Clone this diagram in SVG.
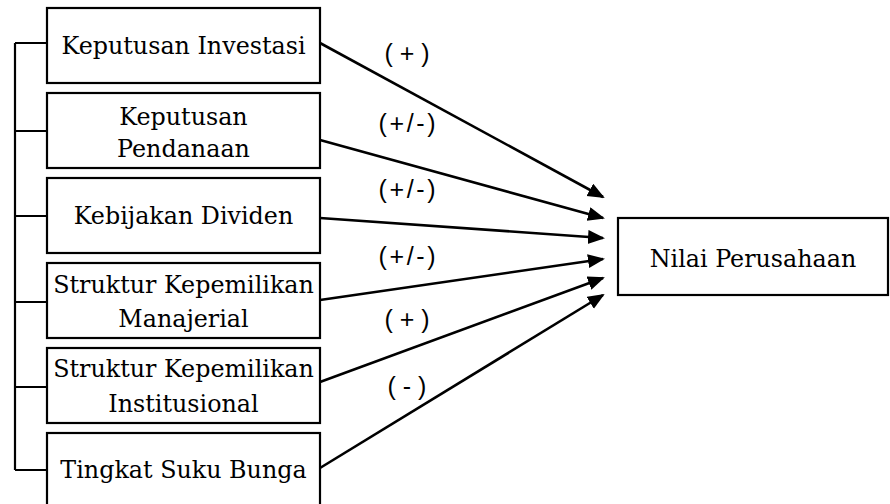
<svg xmlns="http://www.w3.org/2000/svg" width="890" height="504" viewBox="0 0 890 504">
<style>
.box{fill:#fff;stroke:#000;stroke-width:2.2}
.t{font-family:"DejaVu Serif","Liberation Serif",serif;font-size:23.8px;fill:#000;text-anchor:middle}
.lbl{font-family:"Liberation Sans",Arial,sans-serif;font-size:25px;fill:#000;text-anchor:middle}
.ln{stroke:#000;stroke-width:2.2;fill:none}
.arr{stroke:#000;stroke-width:2.6;fill:none;marker-end:url(#ah)}
</style>
<defs>
<marker id="ah" markerUnits="userSpaceOnUse" markerWidth="18" markerHeight="16" refX="15" refY="7" orient="auto">
<path d="M0,0 L17,7 L0,14 z" fill="#000"/>
</marker>
</defs>
<rect width="890" height="504" fill="#fff"/>
<g id="bracket">
<path class="ln" d="M15,43 V470 M15,43 H47 M15,131 H47 M15,216 H47 M15,302 H47 M15,387 H47 M15,470 H47"/>
</g>
<g id="n1"><rect class="box" x="47" y="8" width="273" height="75"/><text class="t" x="183.5" y="54">Keputusan Investasi</text></g>
<g id="n2"><rect class="box" x="47" y="93" width="273" height="75"/><text class="t" x="183.5" y="125">Keputusan</text><text class="t" x="183.5" y="157">Pendanaan</text></g>
<g id="n3"><rect class="box" x="47" y="178" width="273" height="75"/><text class="t" x="183.5" y="224">Kebijakan Dividen</text></g>
<g id="n4"><rect class="box" x="47" y="263" width="273" height="75"/><text class="t" x="183.5" y="293">Struktur Kepemilikan</text><text class="t" x="183.5" y="327">Manajerial</text></g>
<g id="n5"><rect class="box" x="47" y="348" width="273" height="75"/><text class="t" x="183.5" y="377">Struktur Kepemilikan</text><text class="t" x="183.5" y="412">Institusional</text></g>
<g id="n6"><rect class="box" x="47" y="433" width="273" height="80"/><text class="t" x="183.5" y="478">Tingkat Suku Bunga</text></g>
<g id="n7"><rect class="box" x="618" y="218" width="270" height="77"/><text class="t" x="753" y="267">Nilai Perusahaan</text></g>
<g id="connectors">
<line class="arr" x1="320" y1="43" x2="603" y2="197"/>
<line class="arr" x1="320" y1="140" x2="603" y2="218"/>
<line class="arr" x1="320" y1="218" x2="603" y2="238"/>
<line class="arr" x1="320" y1="300" x2="603" y2="259"/>
<line class="arr" x1="320" y1="382" x2="603" y2="278"/>
<line class="arr" x1="320" y1="468" x2="603" y2="295"/>
<text class="lbl" x="407" y="62">( + )</text>
<text class="lbl" x="407" y="132" textLength="57" lengthAdjust="spacing">(+/-)</text>
<text class="lbl" x="407" y="198" textLength="57" lengthAdjust="spacing">(+/-)</text>
<text class="lbl" x="407" y="265" textLength="57" lengthAdjust="spacing">(+/-)</text>
<text class="lbl" x="407" y="328">( + )</text>
<text class="lbl" x="407" y="395">( - )</text>
</g>
</svg>
